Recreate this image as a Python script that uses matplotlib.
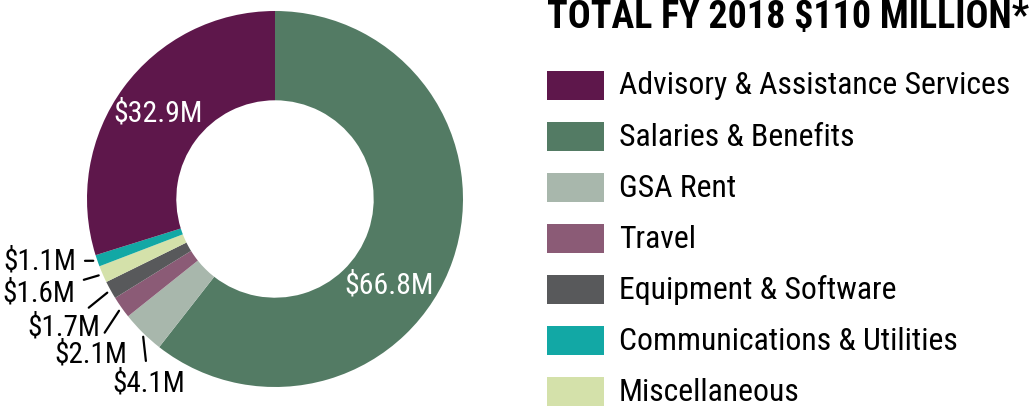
import matplotlib.pyplot as plt
import numpy as np

plt.rcParams['font.family'] = ['Roboto Condensed', 'DejaVu Sans']

# FY 2018 spending, $ millions, clockwise from 12 o'clock
categories = ['Salaries & Benefits', 'GSA Rent', 'Travel', 'Equipment & Software',
              'Miscellaneous', 'Communications & Utilities', 'Advisory & Assistance Services']
values = [66.8, 4.1, 2.1, 1.7, 1.6, 1.1, 32.9]
colors = ['#537B64', '#A8B7AC', '#8B5B76', '#58595B', '#D4E1AA', '#12A8A5', '#5E174B']

legend_order = ['Advisory & Assistance Services', 'Salaries & Benefits', 'GSA Rent', 'Travel',
                'Equipment & Software', 'Communications & Utilities', 'Miscellaneous']
title = 'TOTAL FY 2018 $110 MILLION*'

W, H = 1029, 413
fig = plt.figure(figsize=(W / 100, H / 100), dpi=100)

# donut: centre (275, 199) px, outer radius 188 px
cx, cy, R = 275, 199, 188
ax = fig.add_axes([(cx - R) / W, (H - cy - R) / H, 2 * R / W, 2 * R / H])
wedges, _ = ax.pie(values, colors=colors, startangle=90, counterclock=False,
                   radius=1.0, wedgeprops=dict(width=0.475, linewidth=0))
ax.set_xlim(-1, 1)
ax.set_ylim(-1, 1)
ax.set_aspect('equal')
ax.axis('off')

def mid_angle(w):
    return np.deg2rad((w.theta1 + w.theta2) / 2)

# big values sit inside the ring (angle offset in degrees, radius)
inside = {'Advisory & Assistance Services': (0, 0.77),
          'Salaries & Benefits': (-18, 0.76)}
for w, name, v in zip(wedges, categories, values):
    if name in inside:
        da, r = inside[name]
        a = mid_angle(w) + np.deg2rad(da)
        ax.text(r * np.cos(a), r * np.sin(a), f'${v}M', color='white', fontsize=21.5,
                ha='center', va='center')

# small values sit outside, stepped down to the right, with short leader lines
outside = {'Communications & Utilities': (-1.055, -0.33),
           'Miscellaneous': (-1.06, -0.50),
           'Equipment & Software': (-0.93, -0.686),
           'Travel': (-0.787, -0.825),
           'GSA Rent': (-0.48, -0.98)}
for w, name, v in zip(wedges, categories, values):
    if name in outside:
        a = mid_angle(w)
        tx, ty = outside[name]
        ax.annotate(f'${v}M', xy=(1.0 * np.cos(a), 1.0 * np.sin(a)), xytext=(tx, ty),
                    ha='right', va='center', fontsize=21, color='black',
                    annotation_clip=False,
                    arrowprops=dict(arrowstyle='-', color='black', lw=1.6,
                                    shrinkA=4, shrinkB=3))

# title and legend in pixel coordinates
lax = fig.add_axes([0, 0, 1, 1], zorder=-1)
lax.set_xlim(0, W)
lax.set_ylim(H, 0)
lax.axis('off')

lax.text(547, 17, title, fontsize=27.4, fontweight='bold', ha='left', va='center')
for i, name in enumerate(legend_order):
    y = 85 + i * 51.1
    lax.add_patch(plt.Rectangle((547, y - 14.5), 57, 29, color=colors[categories.index(name)], lw=0))
    lax.text(619, y + 1, name, fontsize=22.9, ha='left', va='center')

fig.savefig('out.png', dpi=100)
